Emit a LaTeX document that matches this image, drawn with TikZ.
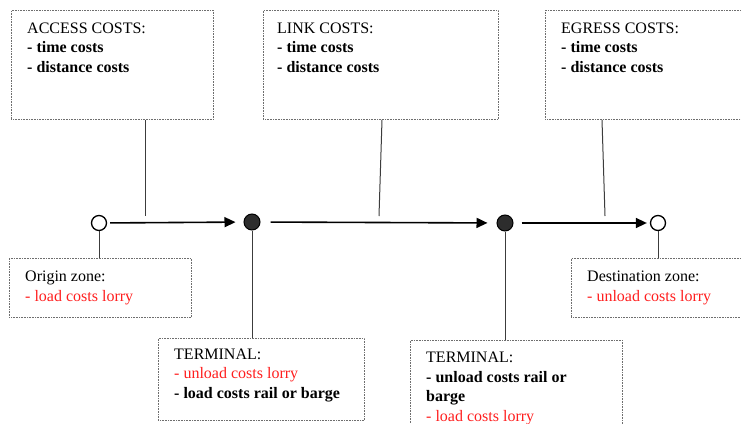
\documentclass[tikz,border=0pt]{standalone}
\usepackage{fontspec}
\setmainfont{Liberation Serif}
\usetikzlibrary{arrows.meta,calc}
\definecolor{boxgray}{RGB}{110,110,110}
\definecolor{linegray}{RGB}{60,60,60}
\definecolor{termfill}{RGB}{45,45,45}
\definecolor{costred}{RGB}{255,30,30}
\tikzset{
  costbox/.style={draw=boxgray, line width=0.8pt, dash pattern=on 0.9pt off 0.7pt, rectangle, inner sep=0pt, anchor=north west},
  boxtext/.style={anchor=north west, inner sep=0pt, align=left, font=\fontsize{16}{19.5}\selectfont},
  zonenode/.style={circle, draw=black, line width=1.3pt, fill=white, minimum size=15pt, inner sep=0pt},
  termnode/.style={circle, draw=black, line width=1pt, fill=termfill, minimum size=16pt, inner sep=0pt},
  flow/.style={line width=1.6pt, -{Triangle[length=11pt,width=10pt]}},
  feeder/.style={draw=linegray, line width=1pt}
}
\begin{document}
\begin{tikzpicture}[x=1pt,y=-1pt]
\useasboundingbox (0,0) rectangle (741,423);
\clip (0,0) rectangle (741,423);
\fill[white] (0,0) rectangle (741,423);
% cost boxes
\node[costbox, minimum width=202pt, minimum height=109pt] (acc) at (11,10) {};
\node[costbox, minimum width=235pt, minimum height=109pt] (link) at (263,10) {};
\node[costbox, minimum width=240pt, minimum height=109pt] (egr) at (545,10) {};
\node[costbox, minimum width=182pt, minimum height=59pt] (oz) at (9,258) {};
\node[costbox, minimum width=220pt, minimum height=59pt] (dz) at (571,258) {};
\node[costbox, minimum width=206pt, minimum height=82pt] (term1) at (158,338) {};
\node[costbox, minimum width=212pt, minimum height=110pt] (term2) at (410,340) {};
% texts
\node[boxtext] (acct) at (27,22.5) {ACCESS COSTS:\\\textbf{- time costs}\\\textbf{- distance costs}};
\node[boxtext] (linkt) at (277,22.5) {LINK COSTS:\\\textbf{- time costs}\\\textbf{- distance costs}};
\node[boxtext] (egrt) at (561,22.5) {EGRESS COSTS:\\\textbf{- time costs}\\\textbf{- distance costs}};
\node[boxtext] (ozt) at (25,271) {Origin zone:\\\textcolor{costred}{- load costs lorry}};
\node[boxtext] (dzt) at (587,271) {Destination zone:\\\textcolor{costred}{- unload costs lorry}};
\node[boxtext] (t1t) at (174,348.5) {TERMINAL:\\\textcolor{costred}{- unload costs lorry}\\\textbf{- load costs rail or barge}};
\node[boxtext] (t2t) at (426,352) {TERMINAL:\\\textbf{- unload costs rail or}\\\textbf{barge}\\\textcolor{costred}{- load costs lorry}};
% network nodes
\node[zonenode] (o) at (99,223) {};
\node[termnode] (t1) at (252,222) {};
\node[termnode] (t2) at (505,223) {};
\node[zonenode] (d) at (658,223) {};
% flows
\draw[flow, shorten <=3pt, shorten >=8pt] (o) -- (t1);
\draw[flow, shorten <=10pt, shorten >=9pt] (t1) -- (t2);
\draw[flow, shorten <=8pt, shorten >=3pt] (t2) -- (d);
% feeders from cost boxes
\coordinate (accfoot) at (145,216);
\coordinate (linkfoot) at (379,216);
\coordinate (egrfoot) at (605,216);
\draw[feeder] (acc.south -| accfoot) -- (accfoot);
\draw[feeder] ($(link.south west)+(119,0)$) -- (linkfoot);
\draw[feeder] ($(egr.south west)+(57,0)$) -- (egrfoot);
\draw[feeder] (o.south) -- (oz.north -| o);
\draw[feeder] (d.south) -- (dz.north -| d);
\draw[feeder] (t1.south) -- (term1.north -| t1);
\draw[feeder] (t2.south) -- (term2.north -| t2);
\end{tikzpicture}
\end{document}
